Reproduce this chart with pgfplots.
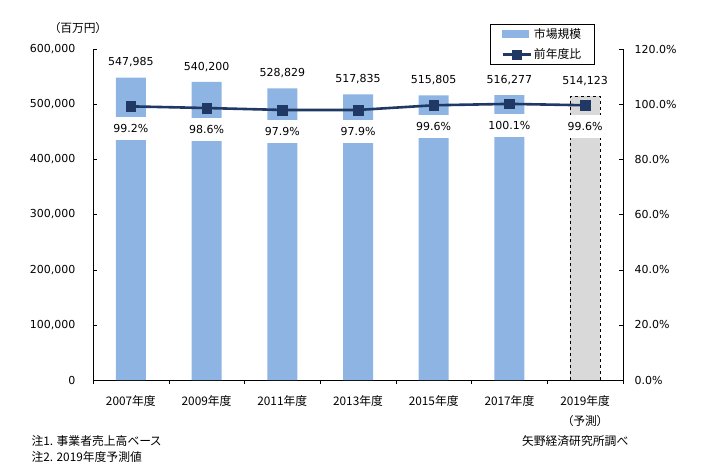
\documentclass[border=0pt]{standalone}
\usepackage{fontspec}
\setmainfont{DejaVu Sans}
\newfontfamily\jp[RawFeature=+palt]{Noto Sans CJK JP}
\usepackage{pgfplots}
\pgfplotsset{compat=1.18}
\definecolor{barblue}{RGB}{141,180,226}
\definecolor{linenavy}{RGB}{31,56,100}
\definecolor{fcgray}{RGB}{217,217,217}

\newcommand{\numfont}{\fontsize{11}{13}\selectfont}
\newcommand{\jpfont}{\jp\fontsize{11.8}{14}\selectfont}

\pgfplotsset{
  longline legend/.style={legend image code/.code={%
    \draw[mark repeat=2,mark phase=2,##1] plot coordinates {(0pt,0pt)(14pt,0pt)(28pt,0pt)};}},
  widebar legend/.style={legend image code/.code={%
    \fill[barblue] (0pt,-3.5pt) rectangle (26pt,3.5pt);}},
}

\begin{document}
\begin{tikzpicture}[x=1pt,y=1pt]
% plot area lower left = pixel (93,380)
\path[use as bounding box] (-93,-91) rectangle (621,380);

\begin{axis}[
  at={(0,0)}, anchor=south west,
  scale only axis, width=530pt, height=331pt,
  xmin=-0.5, xmax=6.5, ymin=0, ymax=600000,
  axis y line*=left, axis x line*=bottom,
  axis line style={-, black},
  tick align=inside,
  ytick={0,100000,...,600000},
  scaled y ticks=false,
  yticklabel style={/pgf/number format/fixed, /pgf/number format/1000 sep={,},
    /pgf/number format/assume math mode=true, font=\numfont, xshift=-14pt},
  major tick length=4pt,
  xtick={0,...,6},
  xticklabels={2007年度,2009年度,2011年度,2013年度,2015年度,2017年度,{2019年度\\（予測）}},
  xticklabel style={font=\jp\fontsize{11.8}{20}\selectfont, align=center, yshift=-8pt},
  major x tick style={draw=none},
  minor xtick={-0.5,0.5,...,6.5},
  minor tick length=4pt,
  minor tick style={black},
  major tick style={black},
  ybar, bar width=30pt, bar shift=0pt,
  nodes near coords={\pgfmathprintnumber[fixed,precision=0,1000 sep={,},assume math mode=true]{\pgfplotspointmeta}},
  nodes near coords style={font=\numfont, yshift=7pt},
]
\addplot[fill=barblue, draw=none] coordinates {
  (0,547985) (1,540200) (2,528829) (3,517835) (4,515805) (5,516277)
};
\addplot[fill=fcgray, draw=black, dashed, line width=0.6pt] coordinates {
  (6,514123)
};
\end{axis}

\begin{axis}[
  at={(0,0)}, anchor=south west,
  scale only axis, width=530pt, height=331pt,
  xmin=-0.5, xmax=6.5, ymin=0, ymax=120,
  axis y line*=right, axis x line=none,
  axis line style={-, black},
  tick align=inside,
  major tick length=4pt,
  major tick style={black},
  ytick={0,20,...,120},
  yticklabel={\pgfmathprintnumber[fixed,fixed zerofill,precision=1,assume math mode=true]{\tick}\%},
  yticklabel style={font=\numfont, xshift=8pt},
  legend style={at={(0.749,1.0755)}, anchor=north west, draw=black, line width=0.8pt,
    font=\jpfont, inner xsep=11pt, inner ysep=2pt, row sep=5pt,
    /tikz/every even column/.append style={column sep=2pt}},
  legend cell align=left,
]
\addlegendimage{widebar legend}
\addlegendentry{市場規模}
\addplot[linenavy, line width=2.6pt, mark=square*, mark size=4.8pt,
  mark options={solid, line width=0.4pt},
  longline legend,
  nodes near coords={\pgfmathprintnumber[fixed,fixed zerofill,precision=1,assume math mode=true]{\pgfplotspointmeta}\%},
  nodes near coords style={font=\numfont, text=black, anchor=north, yshift=-10pt,
    fill=white, minimum height=23pt, minimum width=36pt, inner sep=1pt},
] coordinates {
  (0,99.2) (1,98.6) (2,97.9) (3,97.9) (4,99.6) (5,100.1) (6,99.6)
};
\addlegendentry{前年度比}
\end{axis}

\node[font=\jpfont] at (-15,352) {（百万円）};
\node[font=\jpfont, anchor=west] at (-65,-60.7) {注1. 事業者売上高ベース};
\node[font=\jpfont, anchor=west] at (-65,-77) {注2. 2019年度予測値};
\node[font=\jpfont, anchor=east] at (539,-61) {矢野経済研究所調べ};
\end{tikzpicture}
\end{document}
